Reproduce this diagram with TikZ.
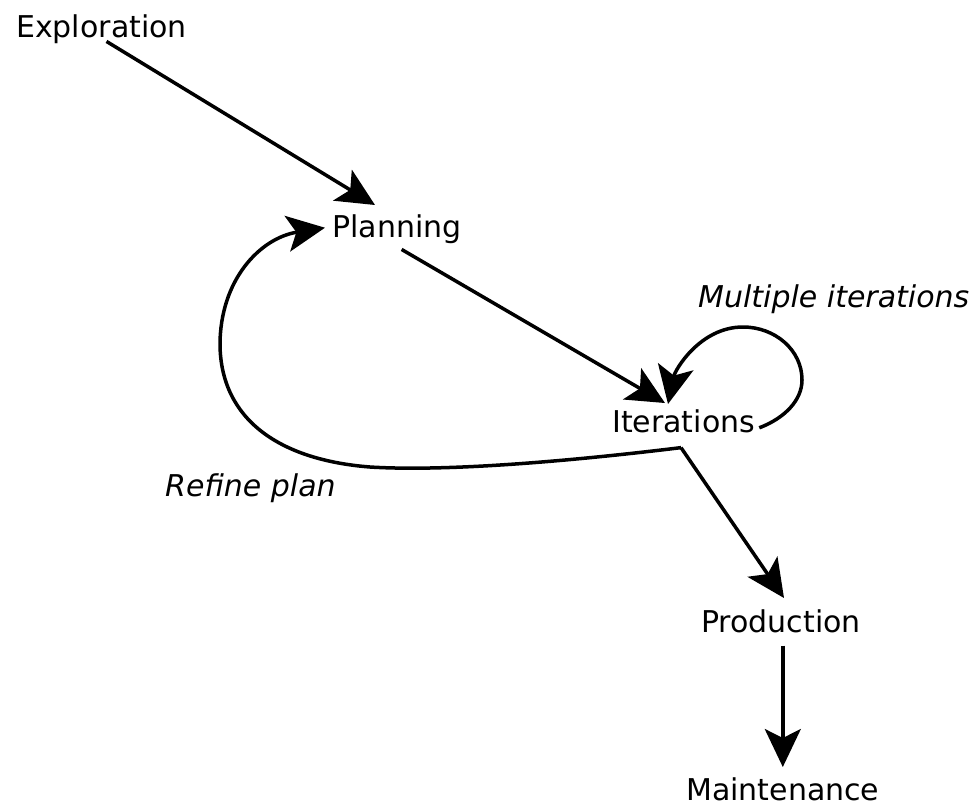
\documentclass[tikz,border=0pt]{standalone}
\usepackage{fontspec}
\setmainfont{DejaVu Sans}
\usetikzlibrary{arrows.meta}
\begin{document}
\begin{tikzpicture}[x=1pt,y=-1pt,
  lbl/.style={anchor=base west,inner sep=0pt,font=\fontsize{30}{30}\selectfont},
  ilbl/.style={lbl,font=\fontsize{30}{30}\selectfont\itshape},
  flow/.style={line width=3.5pt,-{Stealth[length=38pt,width=36pt,inset=9pt]}}]
\useasboundingbox (0,0) rectangle (971,806);
% stage labels
\node[lbl] (expl) at (16,37) {Exploration};
\node[lbl] (plan) at (332,237) {Planning};
\node[lbl] (iter) at (612,432) {Iterations};
\node[lbl] (prod) at (701,632) {Production};
\node[lbl] (main) at (686,800) {Maintenance};
\node[ilbl] (multi) at (698,307) {Multiple iterations};
\node[ilbl] (refine) at (165,496) {Refine plan};
% branching point below the iterations stage
\coordinate (split) at ([shift={(69,15)}]iter.south west);
% connectors
\draw[flow] ([shift={(5,-2)}]expl.south) -- ([shift={(43,-9)}]plan.north west);
\draw[flow] ([shift={(-60,6)}]plan.south east) -- ([shift={(53,-6)}]iter.north west);
\draw[flow] ([shift={(4,7)}]iter.east)
  .. controls (785,418) and (802,400) .. (802,380)
  .. controls (802,350) and (775,327) .. (743,327)
  .. controls (700,327) and (675,370) .. ([shift={(56,-5)}]iter.north west);
\draw[flow] (split) .. controls (580,460) and (450,472) .. (370,467)
  .. controls (280,460) and (221,420) .. (220,345)
  .. controls (220,280) and (260,238) .. ([shift={(-7,-1)}]plan.west);
\draw[flow] (split) -- ([shift={(83,-11)}]prod.north west);
\draw[flow] ([shift={(0,13)}]main.north |- prod.south) -- ([shift={(0,-10)}]main.north);
\end{tikzpicture}
\end{document}
